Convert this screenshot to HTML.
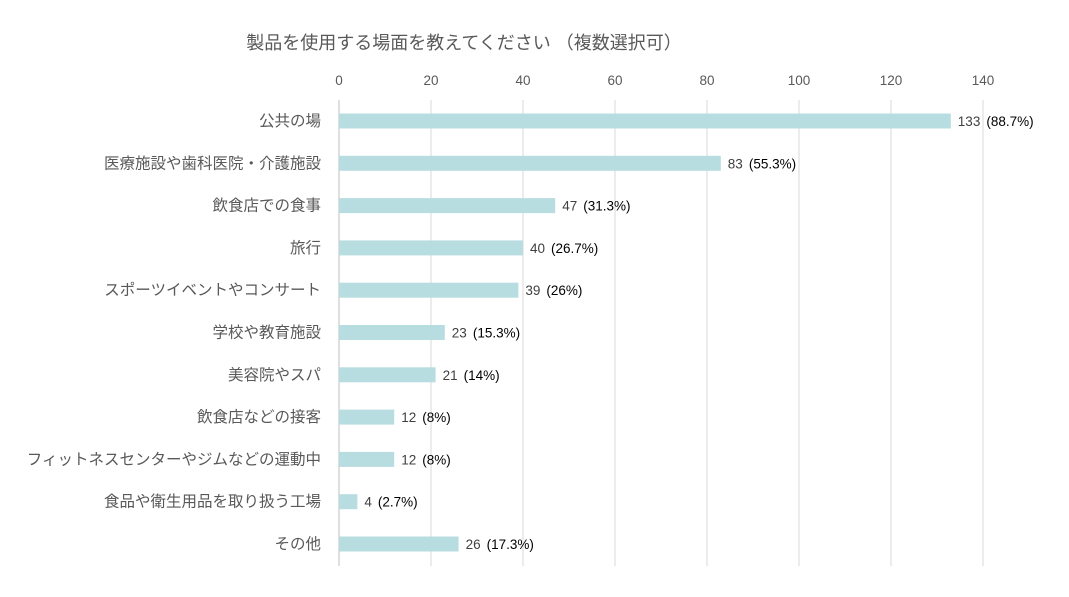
<!DOCTYPE html>
<html><head><meta charset="utf-8"><style>
body{margin:0;background:#fff;width:1069px;height:592px;overflow:hidden;font-family:"Liberation Sans","Noto Sans CJK JP",sans-serif;}
svg text{font-family:"Liberation Sans","Noto Sans CJK JP",sans-serif;}
</style></head><body>
<svg id="chart" width="1069" height="592" xmlns="http://www.w3.org/2000/svg">
<text x="464" y="49" text-anchor="middle" font-size="18" fill="#595959">製品を使用する場面を教えてください （複数選択可）</text>
<g id="grid"></g><g id="bars"></g>
</svg>
<script>
const categories=["公共の場","医療施設や歯科医院・介護施設","飲食店での食事","旅行","スポーツイベントやコンサート","学校や教育施設","美容院やスパ","飲食店などの接客","フィットネスセンターやジムなどの運動中","食品や衛生用品を取り扱う工場","その他"];
const values=[133,83,47,40,39,23,21,12,12,4,26];
const percents=["88.7%","55.3%","31.3%","26.7%","26%","15.3%","14%","8%","8%","2.7%","17.3%"];
const ticks=[0,20,40,60,80,100,120,140];
const NS="http://www.w3.org/2000/svg";
const x0=339,x1=983,xmax=140,yTop=100,yBottom=566,row0=121,rowH=42.3;
const xs=v=>x0+(x1-x0)*v/xmax;
const grid=document.getElementById('grid'),bars=document.getElementById('bars');
function mk(tag,attrs,parent){const e=document.createElementNS(NS,tag);for(const k in attrs)e.setAttribute(k,attrs[k]);parent.appendChild(e);return e;}
ticks.forEach(t=>{
  const l=mk('line',{x1:xs(t),x2:xs(t),y1:yTop,y2:yBottom,stroke:t===0?'#bfbfbf':'#d9d9d9','stroke-width':1},grid);
  
  
  const tx=mk('text',{x:xs(t),y:85,'text-anchor':'middle','font-size':13.5,fill:'#595959'},grid);
  tx.textContent=t;
  
  
});
categories.forEach((c,i)=>{
  const cy=row0+rowH*i;
  const lab=mk('text',{x:321,y:cy+5,'text-anchor':'end','font-size':15.5,fill:'#595959'},bars);
  lab.textContent=c;
  
  
  const r=mk('rect',{x:x0,y:cy-7.5,width:xs(values[i])-x0,height:15,fill:'#b8dde1'},bars);
  
  
  const vt=mk('text',{x:xs(values[i])+7,y:cy+5,'font-size':13.5,fill:'#404040'},bars);
  
  
  const s1=mk('tspan',{},vt);s1.textContent=values[i];
  const s2=mk('tspan',{fill:'#000',dx:6},vt);s2.textContent='('+percents[i]+')';
});
</script>
</body></html>
